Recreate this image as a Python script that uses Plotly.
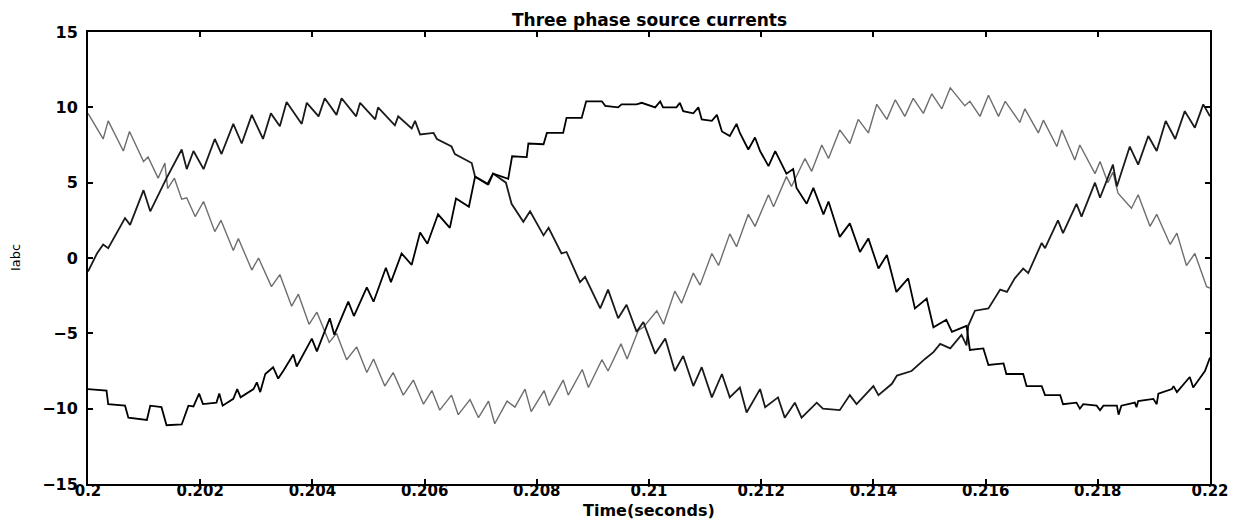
import plotly.graph_objects as go

# time offsets in milliseconds from t = 0.2 s, and current values (A)
p1_ms = [0.00, 0.16, 0.27, 0.36, 0.66, 0.75, 0.99, 1.11, 1.40, 1.67, 1.76, 1.88, 2.06, 2.26, 2.38, 2.59, 2.74, 2.92,
         3.12, 3.26, 3.42, 3.54, 3.81, 3.90, 4.11, 4.22, 4.43, 4.52, 4.78, 4.85, 5.12, 5.17, 5.47, 5.53, 5.77, 5.83,
         5.92, 6.16, 6.22, 6.48, 6.54, 6.84, 6.90, 7.14, 7.22, 7.45, 7.55, 7.76, 7.88, 8.12, 8.21, 8.44, 8.53, 8.77,
         8.86, 9.13, 9.27, 9.45, 9.60, 9.78, 9.90, 10.11, 10.29, 10.46, 10.61, 10.79, 10.94, 11.12, 11.30, 11.44,
         11.62, 11.74, 11.98, 12.07, 12.30, 12.42, 12.60, 12.72, 12.99, 13.10, 13.40, 13.58, 13.70, 14.00, 14.09,
         14.33, 14.42, 14.68, 14.92, 15.07, 15.19, 15.37, 15.57, 15.66, 15.69, 15.81, 16.05, 16.26, 16.38, 16.52,
         16.67, 16.76, 17.00, 17.06, 17.29, 17.38, 17.62, 17.71, 17.95, 18.04, 18.27, 18.34, 18.57, 18.72, 18.90,
         19.05, 19.21, 19.38, 19.55, 19.73, 19.88, 20.00]
p1_val = [-0.9, 0.3, 0.9, 0.65, 2.65, 2.2, 4.5, 3.1, 5.3, 7.2, 5.9, 7.1, 5.9, 7.9, 6.9, 8.9, 7.6, 9.5,
          7.9, 9.6, 8.75, 10.35, 8.9, 10.3, 9.4, 10.6, 9.5, 10.6, 9.4, 10.3, 9.2, 10.0, 8.8, 9.4, 8.6, 9.1,
          8.2, 8.3, 7.9, 7.4, 6.9, 6.3, 5.4, 4.9, 5.6, 5.0, 3.6, 2.4, 3.1, 1.5, 2.0, 0.3, 0.4, -1.6,
          -1.25, -3.35, -2.1, -4.0, -3.1, -4.9, -4.25, -6.35, -5.35, -7.5, -6.5, -8.5, -7.25, -9.25, -7.7, -9.25,
          -8.6, -10.25, -8.7, -9.9, -9.25, -10.6, -9.6, -10.6, -9.6, -10.0, -10.1, -9.1, -9.7, -8.5, -9.1,
          -8.35, -7.8, -7.5, -6.7, -6.25, -5.7, -6.0, -5.1, -5.8, -4.5, -3.5, -3.35, -2.1, -2.25, -1.35,
          -0.7, -1.0, 1.0, 0.65, 2.5, 1.65, 3.6, 2.75, 5.0, 4.0, 6.2, 4.75, 7.4, 6.2, 8.1,
          7.1, 9.1, 7.9, 9.75, 8.65, 10.2, 9.4]

p2_ms = [0.00, 0.27, 0.36, 0.63, 0.74, 0.99, 1.07, 1.25, 1.37, 1.42, 1.54, 1.67, 1.76, 1.91, 2.06, 2.26, 2.37, 2.59,
         2.68, 2.92, 3.04, 3.27, 3.42, 3.63, 3.75, 3.94, 4.08, 4.30, 4.43, 4.61, 4.79, 4.97, 5.09, 5.29, 5.44, 5.62,
         5.80, 5.98, 6.13, 6.27, 6.48, 6.60, 6.81, 6.96, 7.14, 7.25, 7.47, 7.61, 7.79, 7.90, 8.13, 8.22, 8.47, 8.56,
         8.81, 8.92, 9.16, 9.27, 9.50, 9.61, 9.81, 9.90, 10.14, 10.26, 10.46, 10.58, 10.79, 10.91, 11.12, 11.24,
         11.44, 11.56, 11.77, 11.89, 12.13, 12.22, 12.45, 12.54, 12.78, 12.90, 13.08, 13.20, 13.40, 13.58, 13.73,
         13.91, 14.06, 14.24, 14.39, 14.56, 14.71, 14.89, 15.04, 15.22, 15.37, 15.63, 15.72, 15.90, 16.05, 16.23,
         16.35, 16.61, 16.70, 16.94, 17.03, 17.27, 17.36, 17.59, 17.68, 17.95, 18.04, 18.18, 18.27, 18.36, 18.60,
         18.72, 18.93, 19.05, 19.29, 19.41, 19.58, 19.73, 19.94, 20.00]
p2_val = [9.6, 7.9, 9.1, 7.1, 8.4, 6.4, 6.7, 5.3, 6.3, 4.6, 5.3, 3.9, 4.0, 2.75, 3.75, 1.75, 2.5, 0.5,
          1.3, -0.8, 0.0, -1.9, -1.1, -3.2, -2.4, -4.4, -3.6, -5.6, -5.0, -6.75, -5.9, -7.6, -6.7, -8.5, -7.6, -9.1,
          -8.1, -9.7, -8.8, -10.1, -9.1, -10.4, -9.4, -10.6, -9.5, -11.0, -9.5, -9.9, -8.7, -10.2, -8.8, -9.8, -8.1, -9.1,
          -7.4, -8.6, -6.75, -7.5, -5.7, -6.7, -4.8, -4.6, -3.5, -4.4, -2.2, -3.0, -1.0, -1.8, 0.3, -0.5,
          1.6, 0.75, 2.9, 2.1, 4.2, 3.4, 5.4, 4.75, 6.6, 5.75, 7.5, 6.6, 8.5, 7.6, 9.2,
          8.3, 10.2, 9.2, 10.5, 9.4, 10.6, 9.6, 10.9, 9.9, 11.3, 10.1, 10.4, 9.4, 10.8, 9.4,
          10.4, 9.0, 9.9, 8.3, 9.15, 7.4, 8.5, 6.5, 7.5, 5.6, 6.4, 5.0, 5.7, 4.3, 3.3,
          4.2, 2.1, 2.9, 0.9, 1.65, -0.5, 0.3, -1.9, -2.0]

p3_ms = [0.00, 0.33, 0.36, 0.66, 0.72, 1.05, 1.11, 1.31, 1.40, 1.67, 1.79, 1.88, 1.98, 2.05, 2.29, 2.34, 2.40, 2.59,
         2.66, 2.72, 2.95, 3.01, 3.07, 3.16, 3.30, 3.39, 3.48, 3.66, 3.72, 3.99, 4.08, 4.31, 4.39, 4.64, 4.74, 4.97,
         5.09, 5.31, 5.40, 5.59, 5.77, 5.92, 6.05, 6.24, 6.45, 6.56, 6.79, 6.90, 7.12, 7.22, 7.49, 7.56, 7.82, 7.85,
         8.12, 8.18, 8.47, 8.53, 8.80, 8.88, 9.16, 9.22, 9.45, 9.51, 9.78, 9.87, 10.11, 10.20, 10.25, 10.49, 10.55,
         10.61, 10.79, 10.88, 10.94, 11.12, 11.21, 11.30, 11.44, 11.56, 11.62, 11.77, 11.89, 11.98, 12.13, 12.25,
         12.45, 12.57, 12.63, 12.81, 12.93, 13.11, 13.20, 13.40, 13.58, 13.76, 13.91, 14.09, 14.24, 14.41, 14.62,
         14.74, 14.95, 15.07, 15.30, 15.40, 15.66, 15.72, 15.96, 16.05, 16.32, 16.37, 16.67, 16.73, 17.00, 17.06,
         17.33, 17.38, 17.62, 17.68, 17.74, 17.98, 18.04, 18.10, 18.34, 18.37, 18.42, 18.66, 18.69, 18.72, 18.99,
         19.05, 19.08, 19.32, 19.35, 19.41, 19.64, 19.70, 19.91, 20.00]
p3_val = [-8.7, -8.8, -9.7, -9.8, -10.6, -10.75, -9.8, -9.9, -11.1, -11.05, -9.8, -9.85, -9.0, -9.7, -9.6, -9.0, -9.8, -9.35,
          -8.7, -9.25, -8.7, -8.25, -8.9, -7.7, -7.25, -8.0, -7.5, -6.4, -7.2, -5.35, -6.2, -4.0, -5.1, -2.9, -3.85, -1.95,
          -2.9, -0.65, -1.6, 0.3, -0.45, 1.7, 0.95, 2.9, 2.0, 3.95, 3.4, 5.4, 4.9, 5.6, 5.25, 6.75, 6.7, 7.6,
          7.55, 8.3, 8.3, 9.3, 9.3, 10.4, 10.4, 10.1, 10.0, 10.2, 10.2, 10.3, 10.0, 10.4, 10.0, 10.0, 10.3,
          9.75, 9.6, 10.0, 9.2, 9.1, 9.5, 8.4, 8.1, 8.9, 8.3, 7.2, 8.0, 7.1, 6.1, 7.1,
          5.6, 5.9, 4.65, 3.6, 4.65, 2.9, 3.75, 1.4, 2.3, 0.4, 1.3, -0.7, 0.2, -2.25, -1.35,
          -3.35, -2.7, -4.6, -4.1, -4.9, -4.5, -6.1, -6.0, -7.1, -7.0, -7.7, -7.7, -8.5, -8.5, -9.1,
          -9.1, -9.7, -9.6, -10.0, -9.7, -9.8, -10.1, -9.8, -9.8, -10.4, -9.8, -9.6, -9.9, -9.5, -9.35,
          -9.7, -9.0, -8.7, -8.5, -8.9, -7.9, -8.6, -7.5, -6.6]

x_ticks = [0.2, 0.202, 0.204, 0.206, 0.208, 0.21, 0.212, 0.214, 0.216, 0.218, 0.22]
x_tick_labels = ["0.2", "0.202", "0.204", "0.206", "0.208", "0.21", "0.212", "0.214", "0.216", "0.218", "0.22"]
y_ticks = [-15, -10, -5, 0, 5, 10, 15]
title_text = "Three phase source currents"
x_title = "Time(seconds)"
y_title = "Iabc"


def to_s(ms_list):
    return [0.2 + m / 1000.0 for m in ms_list]


fig = go.Figure()
fig.add_trace(go.Scatter(x=to_s(p2_ms), y=p2_val, mode="lines",
                         line=dict(color="#6e6e6e", width=1.4), showlegend=False))
fig.add_trace(go.Scatter(x=to_s(p1_ms), y=p1_val, mode="lines",
                         line=dict(color="#1a1a1a", width=1.8), showlegend=False))
fig.add_trace(go.Scatter(x=to_s(p3_ms), y=p3_val, mode="lines",
                         line=dict(color="#000000", width=1.8), showlegend=False))

font_main = "DejaVu Sans, Arial, sans-serif"
axis_common = dict(showgrid=False, zeroline=False, showline=True, linecolor="black", linewidth=2,
                   mirror="ticks", ticks="inside", ticklen=5, tickwidth=1.5, tickcolor="black")

# page body adds ~8px offset; figure is sized to sit inside the 1247x522 window
fig.update_layout(
    width=1239, height=514,
    margin=dict(l=80, r=37, t=24, b=38),
    paper_bgcolor="white", plot_bgcolor="white",
    xaxis=dict(range=[0.2, 0.22], tickvals=x_ticks, ticktext=x_tick_labels,
               ticklabelstandoff=-8,
               tickfont=dict(family=font_main, size=15, color="black", weight="bold"), **axis_common),
    yaxis=dict(range=[-15, 15], tickvals=y_ticks, ticklabelstandoff=5,
               tickfont=dict(family=font_main, size=16, color="black", weight="bold"), **axis_common),
    annotations=[
        dict(text=title_text, xref="paper", yref="paper", x=0.5, y=1.0, yshift=0,
             xanchor="center", yanchor="bottom", showarrow=False,
             font=dict(family=font_main, size=17, color="black", weight="bold")),
        dict(text=x_title, xref="paper", yref="paper", x=0.5, y=0, yshift=-15,
             xanchor="center", yanchor="top", showarrow=False,
             font=dict(family=font_main, size=16, color="black", weight="bold")),
        dict(text=y_title, xref="paper", yref="paper", x=0, y=0.5, xshift=-73,
             xanchor="center", yanchor="middle", showarrow=False, textangle=-90,
             font=dict(family=font_main, size=13, color="black")),
    ],
)

fig.write_html("out.html")
